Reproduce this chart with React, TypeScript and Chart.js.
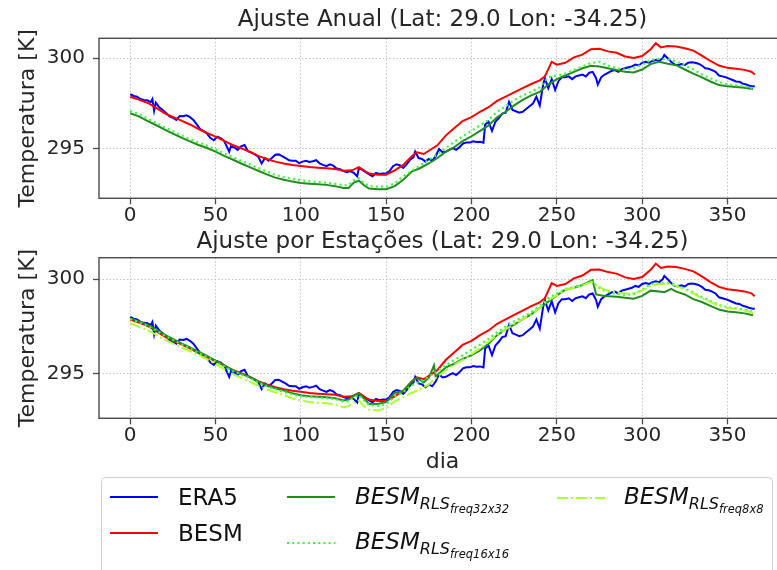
import React, { useEffect, useRef } from "react";
import { Chart, registerables } from "chart.js";

Chart.register(...registerables);

// ---------------- data ----------------
const ERA5_DAYS = [
  0, 2, 4, 6, 8, 10, 12, 13, 14, 15,
  17, 19, 21, 23, 25, 27, 29, 31, 33, 35,
  37, 39, 41, 43, 45, 47, 49, 51, 53, 55,
  56, 58, 59, 61, 63, 65, 67, 69, 71, 73,
  75, 77, 79, 81, 83, 85, 87, 89, 91, 93,
  95, 97, 99, 101, 103, 105, 107, 109, 111, 113,
  115, 117, 119, 121, 123, 125, 127, 129, 131, 133,
  134, 136, 138, 140, 142, 144, 146, 148, 150, 152,
  154, 156, 158, 160, 162, 164, 166, 167, 169, 171,
  173, 175, 177, 179, 181, 183, 185, 187, 189, 191,
  193, 195, 197, 199, 201, 203, 205, 207, 208, 210,
  212, 214, 216, 218, 220, 222, 224, 226, 228, 230,
  232, 234, 236, 238, 240, 242, 243, 245, 247, 249,
  251, 253, 255, 257, 259, 261, 263, 265, 267, 269,
  271, 273, 274, 276, 278, 280, 282, 284, 286, 288,
  290, 292, 294, 296, 298, 300, 302, 304, 306, 308,
  310, 312, 313, 315, 317, 319, 321, 323, 325, 327,
  329, 331, 333, 335, 337, 339, 341, 343, 345, 347,
  349, 351, 353, 355, 357, 359, 361, 363, 365, 366,
];
const ERA5 = [
  298.02, 297.92, 297.88, 297.75, 297.7, 297.68, 297.58, 297.75, 297.1, 297.55,
  297.3, 297.15, 296.98, 296.8, 296.72, 296.6, 296.82, 296.8, 296.85, 296.75,
  296.6, 296.35, 296.1, 295.98, 295.85, 295.6, 295.48, 295.68, 295.6, 295.45,
  295.25, 294.85, 295.15, 295.08, 294.95, 295.15, 295.22, 294.88, 294.8, 294.7,
  294.58, 294.2, 294.5, 294.35, 294.5, 294.68, 294.7, 294.6, 294.5, 294.38,
  294.35, 294.35, 294.22, 294.3, 294.35, 294.28, 294.32, 294.38, 294.2, 294.12,
  294.05, 294.15, 294.08, 293.92, 293.88, 293.78, 293.72, 293.78, 293.68, 293.5,
  293.95, 293.85, 293.72, 293.6, 293.5, 293.68, 293.62, 293.65, 293.65, 293.78,
  294.05, 294.15, 294.1, 293.95, 294.15, 294.4, 294.55, 294.85, 294.5, 294.45,
  294.3, 294.45, 294.35, 294.6, 295.0, 294.82, 294.85, 294.95, 295.05, 294.95,
  295.1, 295.3, 295.35, 295.35, 295.42, 295.38, 295.4, 295.35, 296.35, 296.5,
  296.0, 296.5, 296.7, 296.95, 297.0, 297.6, 297.15, 297.08, 297.0, 297.05,
  297.2, 297.35, 297.5, 297.88, 297.4, 298.55, 298.9, 298.35, 298.85, 298.25,
  298.75, 298.95, 298.95, 299.0, 298.85, 299.0, 299.05, 299.1, 299.0, 299.2,
  299.25, 298.9, 298.55, 298.95, 299.1, 299.2, 299.3, 299.35, 299.25, 299.4,
  299.45, 299.5, 299.55, 299.65, 299.6, 299.75, 299.8, 299.75, 299.85, 299.9,
  299.85, 300.0, 300.18, 300.0, 299.8, 299.65, 299.62, 299.68, 299.62, 299.75,
  299.78, 299.75, 299.7, 299.6, 299.45, 299.42, 299.35, 299.25, 299.05, 299.0,
  298.95, 298.88, 298.8, 298.72, 298.7, 298.6, 298.55, 298.48, 298.45, 298.45,
];

const BESM_DAYS = [
  0, 5, 10, 15, 20, 25, 30, 35, 40, 45,
  50, 55, 60, 65, 70, 75, 80, 85, 90, 95,
  100, 105, 110, 115, 120, 125, 130, 134, 138, 140,
  145, 150, 155, 160, 165, 168, 172, 175, 180, 185,
  190, 195, 200, 205, 210, 215, 220, 225, 230, 235,
  240, 243, 247, 250, 255, 260, 265, 270, 275, 280,
  285, 290, 295, 300, 305, 308, 311, 315, 320, 325,
  330, 335, 340, 345, 350, 355, 360, 364, 366,
];
const BESM = [
  297.88, 297.72, 297.55, 297.28, 296.98, 296.76, 296.56, 296.35, 296.1, 295.88,
  295.68, 295.45, 295.22, 295.04, 294.85, 294.62, 294.45, 294.3, 294.2, 294.12,
  294.06, 294.0, 293.96, 293.93, 293.9, 293.8, 293.82, 294.0, 293.75, 293.65,
  293.58, 293.58, 293.82, 294.12, 294.6, 294.82, 294.72, 294.9, 295.2, 295.75,
  296.15, 296.55, 296.75, 297.05, 297.3, 297.65, 297.88, 298.12, 298.35, 298.58,
  298.78, 299.0, 299.8, 299.65, 299.75, 300.05, 300.2, 300.5, 300.52, 300.38,
  300.3, 300.1, 300.02, 300.12, 300.5, 300.83, 300.6, 300.68, 300.65, 300.55,
  300.42, 300.15, 299.85, 299.6, 299.47, 299.42, 299.36, 299.26, 299.1,
];

// "Ajuste Anual" fitted series
const ANUAL_DAYS = [
  0, 5, 10, 15, 20, 25, 30, 35, 40, 45,
  50, 55, 60, 65, 70, 75, 80, 85, 90, 95,
  100, 105, 110, 115, 120, 125, 128, 131, 134, 137,
  140, 145, 150, 155, 160, 165, 170, 175, 180, 185,
  190, 195, 200, 205, 210, 215, 220, 225, 230, 235,
  240, 245, 250, 255, 260, 265, 270, 275, 280, 285,
  290, 295, 300, 305, 310, 315, 320, 325, 330, 335,
  340, 345, 350, 355, 360, 365,
];
const ANUAL_32 = [
  296.97, 296.8, 296.55, 296.32, 296.08, 295.85, 295.62, 295.42, 295.22, 295.05,
  294.85, 294.62, 294.42, 294.2, 294.0, 293.8, 293.6, 293.42, 293.3, 293.2,
  293.12, 293.08, 293.05, 293.02, 292.95, 292.85, 292.85, 293.15, 293.25, 293.0,
  292.82, 292.78, 292.78, 292.95, 293.3, 293.75, 293.95, 294.2, 294.5, 294.85,
  295.1, 295.45, 295.7, 296.0, 296.3, 296.75, 297.05, 297.4, 297.7, 297.95,
  298.15, 298.55, 298.85, 299.05, 299.25, 299.45, 299.58, 299.55, 299.45, 299.35,
  299.25, 299.22, 299.38, 299.68, 299.8, 299.7, 299.62, 299.38, 299.15, 298.95,
  298.72, 298.52, 298.45, 298.42, 298.38, 298.3,
];
const ANUAL_16 = [
  297.1, 296.92, 296.68, 296.45, 296.2, 295.97, 295.74, 295.54, 295.35, 295.18,
  294.98, 294.76, 294.56, 294.35, 294.15, 293.95, 293.75, 293.57, 293.45, 293.35,
  293.27, 293.22, 293.18, 293.14, 293.08, 293.0, 293.0, 293.28, 293.38, 293.12,
  292.95, 292.92, 292.92, 293.1, 293.5, 293.8, 294.1, 294.4, 294.7, 295.05,
  295.4, 295.7, 296.0, 296.3, 296.6, 297.05, 297.35, 297.7, 297.95, 298.15,
  298.4, 298.95, 299.05, 299.15, 299.35, 299.55, 299.75, 299.8, 299.6, 299.45,
  299.38, 299.45, 299.65, 299.9, 299.97, 299.95, 299.82, 299.6, 299.38, 299.1,
  298.9, 298.7, 298.55, 298.5, 298.45, 298.35,
];

// "Ajuste por Estações" fitted series
const EST_DAYS = [
  0, 5, 10, 15, 20, 25, 30, 35, 40, 45,
  50, 55, 60, 65, 70, 75, 80, 85, 90, 95,
  100, 105, 110, 115, 120, 125, 128, 131, 134, 137,
  140, 145, 150, 155, 160, 165, 168, 172, 175, 178,
  179, 182, 185, 190, 195, 200, 205, 210, 215, 220,
  225, 230, 235, 240, 245, 250, 255, 260, 265, 270,
  271, 273, 278, 285, 290, 295, 300, 305, 310, 313,
  317, 320, 325, 330, 335, 340, 345, 350, 355, 360,
  365,
];
const EST_32 = [
  297.94, 297.78, 297.6, 297.35, 297.08, 296.85, 296.62, 296.4, 296.18, 295.95,
  295.7, 295.45, 295.2, 295.02, 294.84, 294.6, 294.4, 294.25, 294.12, 293.98,
  293.88, 293.83, 293.8, 293.77, 293.72, 293.6, 293.65, 293.85, 293.98, 293.7,
  293.42, 293.42, 293.52, 294.0, 294.1, 294.6, 294.8, 294.55, 294.8, 295.45,
  294.85, 295.1, 295.35, 295.55, 295.8, 296.0, 296.25, 296.6, 297.05, 297.35,
  297.6, 297.9, 298.15, 298.5, 298.82, 299.15, 299.45, 299.55, 299.7, 299.92,
  299.96, 299.2, 299.12, 299.08, 299.02, 298.97, 299.12, 299.4, 299.35, 299.32,
  299.5, 299.35, 299.2, 298.95, 298.8, 298.6, 298.4, 298.3, 298.26, 298.2,
  298.1,
];
const EST_16 = [
  297.9, 297.73, 297.55, 297.3, 297.03, 296.8, 296.57, 296.35, 296.12, 295.9,
  295.65, 295.4, 295.15, 294.97, 294.78, 294.55, 294.35, 294.2, 294.05, 293.92,
  293.82, 293.78, 293.75, 293.72, 293.68, 293.55, 293.55, 293.75, 293.88, 293.6,
  293.35, 293.32, 293.4, 293.8, 294.05, 294.4, 294.52, 294.68, 294.85, 295.05,
  295.1, 295.28, 295.45, 295.75, 296.0, 296.28, 296.55, 296.85, 297.2, 297.5,
  297.78, 298.0, 298.25, 298.6, 299.0, 299.25, 299.5, 299.58, 299.7, 299.88,
  299.88, 299.65, 299.38, 299.22, 299.18, 299.22, 299.45, 299.75, 299.8, 299.8,
  299.78, 299.7, 299.5, 299.3, 299.05, 298.85, 298.65, 298.52, 298.47, 298.4,
  298.28,
];
const EST_8 = [
  297.68, 297.5, 297.33, 297.08, 296.82, 296.6, 296.4, 296.2, 296.0, 295.78,
  295.52, 295.25, 295.0, 294.8, 294.58, 294.38, 294.2, 294.02, 293.88, 293.72,
  293.6, 293.52, 293.48, 293.45, 293.38, 293.25, 293.3, 293.5, 293.6, 293.3,
  293.12, 293.08, 293.2, 293.55, 293.78, 294.0, 294.12, 294.3, 294.45, 294.7,
  294.78, 295.0, 295.2, 295.5, 295.75, 296.05, 296.35, 296.7, 297.05, 297.35,
  297.65, 297.9, 298.15, 298.5, 298.9, 299.15, 299.45, 299.55, 299.68, 299.85,
  299.85, 299.7, 299.45, 299.3, 299.25, 299.25, 299.4, 299.65, 299.75, 299.75,
  299.75, 299.65, 299.45, 299.25, 299.0, 298.8, 298.6, 298.48, 298.42, 298.35,
  298.22,
];

const X_TICKS = [0, 50, 100, 150, 200, 250, 300, 350];
const Y_TICKS = [295, 300];

const TITLE_TOP = "Ajuste Anual (Lat: 29.0 Lon: -34.25)";
const TITLE_BOTTOM = "Ajuste por Estações (Lat: 29.0 Lon: -34.25)";
const Y_LABEL = "Temperatura [K]";
const X_LABEL = "dia";

// ---------------- styles ----------------
const FONT = "'DejaVu Sans', sans-serif";
const TEXT = "#262626";
const C_ERA5 = "#0000ff";
const C_BESM = "#ff0000";
const C_32 = "#228b22";
const C_16 = "#33ff33";
const C_8 = "#adff2f";
const DASH_16 = [2, 3.2];
const DASH_8 = [11, 3, 2, 3];

const pts = (days: number[], vals: number[]) =>
  days.map((d, i) => ({ x: d, y: vals[i] }));

const line = (label: string, data: any[], color: string, order: number, extra: any = {}) => ({
  label,
  data,
  borderColor: color,
  backgroundColor: color,
  borderWidth: 2,
  pointRadius: 0,
  pointHoverRadius: 0,
  tension: 0,
  fill: false,
  order,
  ...extra,
});

const spines = {
  id: "spines",
  afterDraw(chart: any) {
    const { ctx, chartArea } = chart;
    const { left, right, top, bottom } = chartArea;
    ctx.save();
    ctx.strokeStyle = "#4a4a4a";
    ctx.lineWidth = 1.4;
    ctx.strokeRect(left, top, right - left, bottom - top);
    ctx.restore();
  },
};

function makeOptions(p: {
  title: string;
  yMin: number;
  yMax: number;
  titlePad: { top: number; bottom: number };
  xHeight: number;
  xTitle: boolean;
}): any {
  const grid = {
    color: "#c4c4c4",
    lineWidth: 1,
    drawTicks: true,
    tickLength: 6,
    tickColor: "#4a4a4a",
    tickWidth: 1.3,
    tickBorderDash: [],
  };
  return {
    responsive: false,
    maintainAspectRatio: false,
    animation: false,
    devicePixelRatio: 1,
    layout: { padding: { left: 0, right: 14, top: 0, bottom: 0 } },
    plugins: {
      legend: { display: false },
      tooltip: { enabled: false },
      title: {
        display: true,
        fullSize: false,
        text: p.title,
        color: TEXT,
        font: { family: FONT, size: 23, weight: "normal", lineHeight: 1.2 },
        padding: p.titlePad,
      },
    },
    scales: {
      x: {
        type: "linear",
        min: -18.3,
        max: 384.3,
        afterBuildTicks: (s: any) => {
          s.ticks = X_TICKS.map((v) => ({ value: v }));
        },
        afterFit: (s: any) => {
          s.height = p.xHeight;
        },
        ticks: {
          color: TEXT,
          font: { family: FONT, size: 20, lineHeight: 1 },
          padding: 1,
          maxRotation: 0,
          autoSkip: false,
          callback: (v: any) => String(v),
        },
        grid,
        border: { display: false, dash: [1.5, 2] },
        title: {
          display: p.xTitle,
          text: X_LABEL,
          color: TEXT,
          font: { family: FONT, size: 22, lineHeight: 1.2 },
          padding: { top: 0, bottom: 0 },
        },
      },
      y: {
        type: "linear",
        min: p.yMin,
        max: p.yMax,
        afterBuildTicks: (s: any) => {
          s.ticks = Y_TICKS.map((v) => ({ value: v }));
        },
        afterFit: (s: any) => {
          s.width = 99;
        },
        ticks: {
          color: TEXT,
          font: { family: FONT, size: 20, lineHeight: 1 },
          padding: 8,
          callback: (v: any) => String(v),
        },
        grid,
        border: { display: false, dash: [1.5, 2] },
        title: {
          display: true,
          text: Y_LABEL,
          color: TEXT,
          font: { family: FONT, size: 22, lineHeight: 1.2 },
          padding: { top: 15, bottom: 0 },
        },
      },
    },
  };
}

function Legend() {
  const fam = "DejaVu Sans";
  const fs = 23;
  const handle = (x: number, y: number, color: string, dash?: number[]) => (
    <line
      x1={x}
      y1={y}
      x2={x + 48}
      y2={y}
      stroke={color}
      strokeWidth={2}
      strokeDasharray={dash ? dash.join(" ") : undefined}
    />
  );
  const mathLabel = (x: number, y: number, sub: string) => (
    <text x={x} y={y} fontFamily={fam} fontStyle="italic" fontSize={fs} fill="#111">
      BESM
      <tspan fontSize={16} dy={5}>RLS</tspan>
      <tspan fontSize={11.5} dy={4}>{sub}</tspan>
    </text>
  );
  return (
    <svg
      width={777}
      height={570}
      style={{ position: "absolute", left: 0, top: 0, pointerEvents: "none" }}
    >
      <rect x={101.5} y={477.5} width={671} height={120} rx={4} fill="#fff" stroke="#cfcfcf" strokeWidth={1} />
      {handle(110, 497, C_ERA5)}
      <text x={178} y={505} fontFamily={fam} fontSize={fs} fill="#111">ERA5</text>
      {handle(110, 533, C_BESM)}
      <text x={178} y={541} fontFamily={fam} fontSize={fs} fill="#111">BESM</text>
      {handle(287, 497, C_32)}
      {mathLabel(355, 504, "freq32x32")}
      {handle(287, 543, C_16, DASH_16)}
      {mathLabel(355, 549, "freq16x16")}
      {handle(557, 498, C_8, DASH_8)}
      {mathLabel(624, 504, "freq8x8")}
    </svg>
  );
}

export default function App() {
  const topRef = useRef<HTMLCanvasElement>(null);
  const botRef = useRef<HTMLCanvasElement>(null);

  useEffect(() => {
    const top = new Chart(topRef.current as HTMLCanvasElement, {
      type: "line",
      data: {
        datasets: [
          line("ERA5", pts(ERA5_DAYS, ERA5), C_ERA5, 5),
          line("BESM", pts(BESM_DAYS, BESM), C_BESM, 4),
          line("BESM_RLS_freq32x32", pts(ANUAL_DAYS, ANUAL_32), C_32, 3),
          line("BESM_RLS_freq16x16", pts(ANUAL_DAYS, ANUAL_16), C_16, 2, { borderDash: DASH_16, borderWidth: 2.2 }),
        ],
      },
      options: makeOptions({
        title: TITLE_TOP,
        yMin: 292.28,
        yMax: 301.1,
        titlePad: { top: 6.5, bottom: 4.2 },
        xHeight: 31.7,
        xTitle: false,
      }),
      plugins: [spines],
    } as any);

    const bot = new Chart(botRef.current as HTMLCanvasElement, {
      type: "line",
      data: {
        datasets: [
          line("ERA5", pts(ERA5_DAYS, ERA5), C_ERA5, 5),
          line("BESM", pts(BESM_DAYS, BESM), C_BESM, 4),
          line("BESM_RLS_freq32x32", pts(EST_DAYS, EST_32), C_32, 3),
          line("BESM_RLS_freq16x16", pts(EST_DAYS, EST_16), C_16, 2, { borderDash: DASH_16, borderWidth: 2.2 }),
          line("BESM_RLS_freq8x8", pts(EST_DAYS, EST_8), C_8, 1, { borderDash: DASH_8 }),
        ],
      },
      options: makeOptions({
        title: TITLE_BOTTOM,
        yMin: 292.66,
        yMax: 301.14,
        titlePad: { top: 3.2, bottom: 1.9 },
        xHeight: 56.7,
        xTitle: true,
      }),
      plugins: [spines],
    } as any);

    return () => {
      top.destroy();
      bot.destroy();
    };
  }, []);

  return (
    <div
      style={{
        position: "fixed",
        left: 0,
        top: 0,
        width: 777,
        height: 570,
        overflow: "hidden",
        background: "#fff",
      }}
    >
      <canvas
        ref={topRef}
        width={800}
        height={230}
        style={{ position: "absolute", left: 0, top: 0, width: 800, height: 230 }}
      />
      <canvas
        ref={botRef}
        width={800}
        height={250}
        style={{ position: "absolute", left: 0, top: 225, width: 800, height: 250 }}
      />
      <Legend />
    </div>
  );
}
